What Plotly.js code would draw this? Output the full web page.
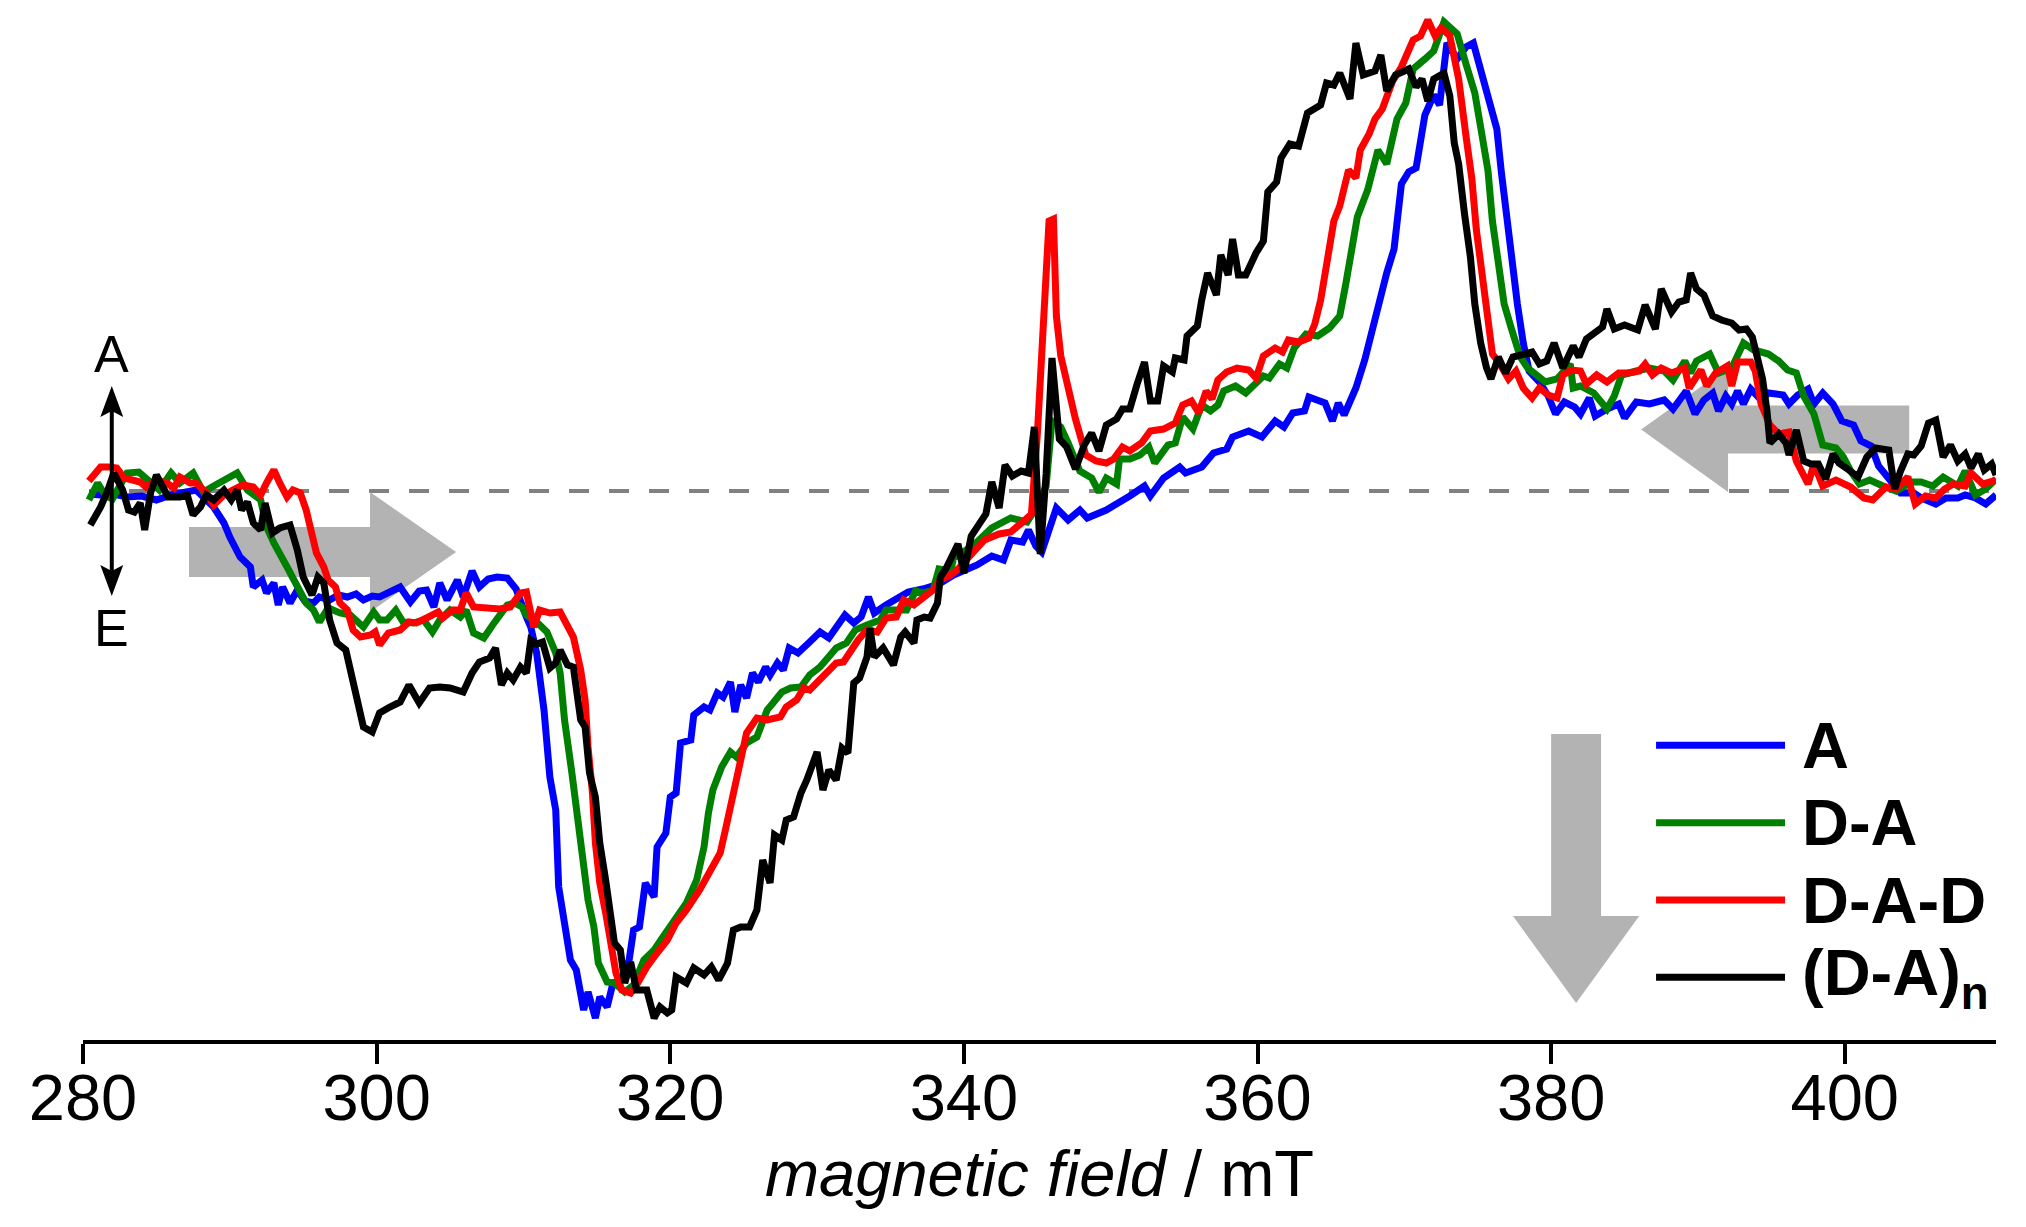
<!DOCTYPE html>
<html>
<head>
<meta charset="utf-8">
<script src="https://cdn.plot.ly/plotly-3.0.1.min.js"></script>
<style>
  html, body { margin: 0; padding: 0; background: #fff; }
  #graphDiv { width: 2026px; height: 1227px; }
</style>
</head>
<body>
<div id="graphDiv"></div>
<script>
// magnetic field (mT), signal (arb. units, 0 = baseline)
const seriesA = [
  [280.4,-0.03],[281.2,-0.04],[282.1,-0.03],[283.0,-0.06],[284.0,-0.05],[285.0,-0.09],[286.0,-0.04],
  [286.5,-0.03],[287.7,0.01],[288.9,-0.16],[289.6,-0.32],[290.0,-0.46],[290.7,-0.66],[291.4,-0.76],
  [291.6,-0.96],[292.2,-0.89],[292.5,-1.02],[293.0,-0.92],[293.3,-1.14],[293.6,-0.96],[294.1,-1.12],
  [294.6,-0.99],[295.1,-1.10],[295.7,-1.12],[296.1,-1.06],[296.8,-1.09],[297.4,-1.04],[298.0,-1.06],
  [298.6,-1.03],[299.1,-1.09],[299.7,-1.05],[300.2,-1.06],[300.9,-1.01],[301.6,-0.96],[302.3,-1.11],
  [302.9,-1.00],[303.4,-0.99],[303.9,-1.16],[304.3,-0.92],[304.8,-1.09],[305.5,-0.89],[305.9,-1.06],
  [306.5,-0.80],[307.0,-0.96],[307.6,-0.88],[308.2,-0.86],[308.9,-0.87],[309.5,-0.98],[310.2,-1.26],
  [310.5,-1.36],[310.9,-1.62],[311.4,-2.19],[311.8,-2.86],[312.2,-3.19],[312.4,-3.96],[312.7,-4.22],
  [313.2,-4.69],[313.6,-4.79],[314.1,-5.19],[314.4,-5.01],[314.9,-5.27],[315.2,-5.06],[315.7,-5.16],
  [316.1,-4.92],[316.7,-4.89],[317.2,-4.69],[317.5,-4.39],[317.9,-4.36],[318.3,-3.92],[318.9,-4.06],
  [319.1,-3.56],[319.7,-3.42],[320.0,-3.06],[320.4,-3.02],[320.7,-2.52],[321.4,-2.49],[321.6,-2.24],
  [322.3,-2.16],[322.7,-2.19],[323.2,-2.02],[323.6,-2.06],[324.1,-1.91],[324.4,-2.21],[324.8,-1.94],
  [325.2,-2.07],[325.6,-1.82],[326.0,-1.91],[326.5,-1.76],[326.8,-1.84],[327.3,-1.72],[327.7,-1.79],
  [328.1,-1.57],[328.7,-1.62],[329.5,-1.51],[330.2,-1.41],[330.8,-1.47],[331.9,-1.24],[332.5,-1.32],
  [333.0,-1.26],[333.5,-1.06],[333.9,-1.22],[334.7,-1.14],[336.2,-1.01],[337.2,-0.98],[338.3,-0.93],
  [339.3,-0.84],[340.9,-0.74],[341.9,-0.65],[342.7,-0.69],[343.2,-0.49],[344.0,-0.51],[344.4,-0.39],
  [344.9,-0.55],[345.3,-0.61],[346.3,-0.17],[347.1,-0.29],[347.9,-0.19],[348.4,-0.27],[349.7,-0.19],
  [351.3,-0.05],[352.3,0.05],[352.7,-0.05],[353.6,0.13],[354.7,0.24],[355.1,0.18],[356.2,0.24],
  [357.0,0.38],[357.9,0.42],[358.3,0.54],[359.4,0.60],[360.3,0.54],[361.2,0.70],[361.8,0.64],
  [362.4,0.78],[363.2,0.80],[363.5,0.94],[364.6,0.88],[365.1,0.70],[365.5,0.88],[365.9,0.76],
  [366.7,1.03],[367.3,1.31],[368.0,1.75],[368.8,2.18],[369.3,2.42],[369.8,3.07],[370.3,3.19],
  [370.8,3.23],[371.4,3.76],[372.0,3.96],[372.4,3.86],[372.9,4.48],[373.6,4.32],[374.2,4.44],
  [374.7,4.48],[375.1,4.27],[375.6,3.98],[376.3,3.62],[376.6,3.20],[377.0,2.70],[377.4,2.30],
  [377.7,1.87],[378.1,1.48],[378.5,1.20],[379.2,1.09],[379.8,0.95],[380.3,0.77],[380.9,0.89],
  [381.6,0.84],[382.0,0.77],[382.6,0.93],[383.0,0.75],[383.8,0.82],[384.6,0.87],[385.0,0.73],
  [385.8,0.89],[386.7,0.87],[387.7,0.91],[388.3,0.82],[389.2,1.00],[389.8,0.77],[390.4,0.91],
  [391.0,0.98],[391.4,0.80],[391.9,0.95],[392.3,0.87],[392.7,1.00],[393.1,0.87],[393.6,1.02],
  [394.3,0.91],[394.8,0.98],[395.8,0.96],[396.2,0.87],[396.8,0.96],[397.5,1.02],[397.9,0.87],
  [398.5,0.98],[399.2,0.87],[399.8,0.70],[400.6,0.66],[401.1,0.50],[401.8,0.45],[402.3,0.25],
  [403.0,0.12],[403.8,-0.02],[404.7,-0.02],[405.2,-0.07],[406.2,-0.13],[406.9,-0.07],[407.7,-0.07],
  [408.2,-0.04],[408.9,-0.07],[409.6,-0.13],[410.3,-0.04]
];

const seriesDA = [
  [280.4,-0.09],[281.0,0.08],[281.5,-0.04],[282.0,-0.08],[282.5,0.05],[283.0,0.18],[283.8,0.19],
  [284.6,0.09],[285.2,0.01],[286.0,0.18],[286.6,0.08],[287.5,0.18],[288.2,-0.01],[288.9,0.05],
  [289.6,0.11],[290.5,0.18],[291.2,0.01],[292.1,-0.09],[292.5,-0.36],[293.0,-0.52],[293.9,-0.76],
  [294.6,-0.96],[295.2,-1.12],[295.7,-1.19],[296.1,-1.31],[296.7,-1.17],[297.5,-1.22],[298.2,-1.24],
  [299.1,-1.36],[299.8,-1.21],[300.2,-1.29],[300.7,-1.29],[301.3,-1.19],[301.8,-1.31],[302.5,-1.32],
  [303.2,-1.29],[303.8,-1.41],[304.3,-1.29],[305.0,-1.19],[305.7,-1.26],[306.1,-1.19],[306.6,-1.42],
  [307.3,-1.47],[307.9,-1.34],[308.4,-1.25],[308.9,-1.14],[309.4,-1.12],[309.9,-1.16],[310.2,-1.24],
  [310.9,-1.31],[311.6,-1.41],[312.2,-1.62],[312.5,-1.82],[312.8,-2.29],[313.3,-2.82],[313.7,-3.29],
  [314.1,-3.86],[314.4,-4.09],[314.8,-4.36],[315.1,-4.72],[315.7,-4.91],[316.2,-4.92],[316.9,-5.01],
  [317.5,-4.94],[318.2,-4.69],[318.9,-4.59],[319.5,-4.46],[320.4,-4.26],[321.1,-4.12],[321.8,-3.89],
  [322.3,-3.56],[322.6,-3.22],[322.9,-2.99],[323.5,-2.76],[324.1,-2.61],[324.5,-2.66],[325.2,-2.52],
  [325.9,-2.46],[326.6,-2.19],[327.0,-2.12],[327.6,-2.01],[328.2,-1.97],[328.9,-1.96],[329.5,-1.84],
  [330.2,-1.76],[330.9,-1.64],[331.3,-1.57],[332.0,-1.52],[332.6,-1.39],[333.4,-1.34],[334.3,-1.29],
  [334.7,-1.19],[335.7,-1.20],[336.1,-1.19],[336.7,-1.00],[337.2,-1.02],[337.9,-0.99],[338.3,-0.78],
  [339.1,-0.80],[339.3,-0.67],[340.6,-0.55],[341.9,-0.37],[343.2,-0.27],[344.3,-0.31],[345.0,-0.15],
  [345.6,0.05],[346.0,0.70],[346.6,0.64],[347.1,0.48],[347.9,0.20],[348.7,0.13],[349.2,-0.01],
  [349.7,0.13],[350.4,0.07],[350.6,0.32],[351.3,0.32],[352.0,0.36],[352.6,0.44],[353.0,0.28],
  [353.9,0.46],[354.4,0.48],[354.9,0.74],[355.6,0.62],[356.2,0.86],[356.8,0.80],[357.3,0.86],
  [357.7,1.00],[358.5,1.05],[359.2,0.98],[359.8,1.07],[360.4,1.15],[360.8,1.13],[361.5,1.27],
  [362.0,1.23],[362.5,1.43],[363.3,1.57],[364.1,1.55],[364.9,1.63],[365.6,1.75],[366.0,2.06],
  [366.4,2.46],[366.8,2.74],[367.5,3.01],[368.2,3.41],[368.8,3.27],[369.5,3.72],[370.1,3.88],
  [370.6,4.22],[371.4,4.32],[372.0,4.40],[372.7,4.69],[373.1,4.64],[373.6,4.57],[374.2,4.27],
  [374.8,3.98],[375.3,3.55],[375.7,3.20],[376.0,2.70],[376.4,2.23],[376.8,1.87],[377.3,1.62],
  [377.9,1.34],[378.4,1.23],[379.1,1.16],[379.6,1.09],[380.4,1.12],[380.9,1.21],[381.3,1.27],
  [381.5,1.03],[382.0,1.05],[382.9,0.98],[383.8,0.82],[384.3,0.95],[384.8,1.16],[385.8,1.20],
  [386.7,1.23],[387.7,1.20],[388.3,1.11],[389.1,1.30],[389.5,1.18],[389.9,1.30],[390.8,1.37],
  [391.4,1.18],[392.3,1.23],[393.1,1.48],[393.8,1.41],[394.8,1.37],[395.5,1.30],[396.1,1.21],
  [396.7,1.18],[397.2,0.95],[397.9,0.77],[398.5,0.46],[399.4,0.43],[399.9,0.34],[400.4,0.20],
  [401.0,0.07],[401.7,0.11],[402.6,0.05],[403.5,0.00],[404.5,0.09],[405.2,0.09],[406.0,0.05],
  [406.7,0.14],[407.7,0.05],[408.2,0.20],[408.9,-0.04],[409.6,0.02],[410.3,0.12]
];

const seriesDAD = [
  [280.4,0.10],[280.6,0.14],[281.2,0.24],[281.8,0.24],[282.3,0.23],[282.8,0.13],[283.2,0.11],
  [283.9,0.09],[284.3,0.04],[285.0,0.11],[285.7,0.08],[286.2,0.03],[286.6,0.14],[287.3,0.08],
  [287.7,0.08],[288.4,-0.02],[288.9,-0.14],[289.6,-0.04],[290.2,0.01],[290.9,0.06],[291.6,0.04],
  [292.1,-0.04],[292.5,0.08],[293.0,0.21],[293.4,0.08],[293.9,-0.06],[294.3,0.01],[294.8,-0.02],
  [295.2,-0.19],[295.5,-0.39],[295.9,-0.62],[296.4,-0.76],[296.7,-0.89],[297.2,-0.96],[297.5,-1.12],
  [298.0,-1.19],[298.4,-1.39],[298.9,-1.46],[299.6,-1.44],[299.9,-1.41],[300.2,-1.54],[300.8,-1.42],
  [301.6,-1.39],[302.2,-1.31],[302.7,-1.32],[303.4,-1.27],[304.2,-1.21],[304.5,-1.27],[305.2,-1.19],
  [305.7,-1.19],[306.1,-1.02],[306.6,-1.16],[307.5,-1.17],[308.4,-1.18],[309.1,-1.16],[309.8,-1.02],
  [310.2,-1.01],[310.7,-1.36],[311.1,-1.19],[311.8,-1.22],[312.5,-1.21],[313.0,-1.36],[313.4,-1.46],
  [313.9,-1.79],[314.2,-2.09],[314.4,-2.56],[314.7,-3.02],[314.9,-3.52],[315.2,-3.92],[315.6,-4.22],
  [315.9,-4.49],[316.3,-4.82],[316.7,-4.99],[317.3,-5.02],[317.7,-4.94],[318.4,-4.76],[319.1,-4.62],
  [319.8,-4.49],[320.4,-4.32],[321.1,-4.19],[322.0,-3.99],[322.7,-3.82],[323.4,-3.62],[323.8,-3.36],
  [324.3,-3.02],[324.6,-2.76],[325.2,-2.42],[325.9,-2.27],[326.6,-2.29],[327.5,-2.26],[327.9,-2.16],
  [328.6,-2.09],[329.1,-1.97],[329.5,-1.99],[330.2,-1.89],[330.9,-1.79],[331.3,-1.72],[331.8,-1.71],
  [332.3,-1.59],[332.8,-1.49],[333.4,-1.39],[334.1,-1.41],[334.7,-1.27],[335.4,-1.26],[335.9,-1.09],
  [336.6,-1.14],[337.2,-1.07],[337.9,-0.99],[338.4,-0.89],[339.1,-0.84],[339.6,-0.78],[340.6,-0.63],
  [341.4,-0.49],[342.4,-0.43],[343.2,-0.41],[344.0,-0.31],[344.6,-0.23],[345.0,0.56],[345.4,1.75],
  [345.8,2.70],[346.1,2.72],[346.3,1.75],[346.6,1.35],[347.1,1.00],[347.6,0.72],[348.3,0.36],
  [349.0,0.30],[349.7,0.28],[350.2,0.32],[350.8,0.44],[351.3,0.40],[352.1,0.48],[352.7,0.60],
  [353.6,0.62],[354.4,0.68],[354.9,0.86],[355.5,0.90],[356.0,0.78],[356.5,1.00],[356.9,0.92],
  [357.3,1.11],[357.9,1.19],[358.6,1.23],[359.4,1.21],[359.9,1.13],[360.4,1.35],[361.2,1.43],
  [361.7,1.39],[362.1,1.51],[362.8,1.49],[363.5,1.53],[363.9,1.67],[364.3,1.91],[364.7,2.26],
  [365.2,2.70],[365.6,2.85],[366.2,3.21],[366.7,3.13],[367.0,3.41],[367.6,3.57],[368.0,3.72],
  [368.5,3.82],[369.2,4.10],[369.8,4.24],[370.6,4.51],[371.1,4.55],[371.6,4.71],[372.1,4.55],
  [372.5,4.63],[373.1,4.55],[373.7,4.12],[374.2,3.55],[374.6,3.12],[374.9,2.62],[375.3,2.12],
  [375.7,1.70],[376.0,1.37],[376.5,1.27],[377.1,1.12],[377.6,1.20],[378.1,1.03],[378.7,0.93],
  [379.2,1.03],[379.8,0.96],[380.4,0.93],[380.8,1.16],[381.4,1.21],[382.0,1.20],[382.4,1.07],
  [383.1,1.16],[383.8,1.09],[384.6,1.18],[385.3,1.18],[386.0,1.20],[386.4,1.27],[386.9,1.16],
  [387.5,1.23],[388.2,1.18],[389.1,1.23],[389.4,1.03],[390.2,1.21],[390.6,1.05],[391.2,1.18],
  [392.0,1.25],[392.3,1.05],[392.7,1.29],[393.6,1.29],[393.9,1.20],[394.3,0.87],[394.9,0.66],
  [395.5,0.57],[396.2,0.59],[396.7,0.30],[397.5,0.07],[397.9,0.27],[398.5,0.05],[399.4,0.11],
  [400.4,0.04],[401.3,-0.07],[401.9,-0.09],[402.8,0.04],[403.5,0.02],[404.3,0.14],[404.8,-0.13],
  [405.5,-0.05],[406.2,-0.07],[406.8,0.02],[407.4,0.07],[408.2,0.05],[408.6,0.18],[409.4,0.07],
  [410.3,0.11]
];

const seriesDAn = [
  [280.5,-0.34],[281.2,-0.16],[281.7,0.01],[282.1,0.18],[282.7,0.01],[283.1,-0.19],[283.5,-0.21],
  [283.9,-0.12],[284.2,-0.39],[284.6,-0.02],[285.0,0.16],[285.5,0.04],[285.8,-0.06],[286.6,-0.06],
  [287.1,-0.04],[287.5,-0.24],[288.0,-0.16],[288.4,-0.04],[288.9,-0.09],[289.6,0.01],[290.1,-0.09],
  [290.5,0.01],[290.8,-0.19],[291.2,-0.11],[291.6,-0.32],[292.1,-0.39],[292.4,-0.12],[292.9,-0.42],
  [293.4,-0.37],[294.1,-0.34],[294.6,-0.59],[295.0,-0.86],[295.6,-1.04],[296.0,-0.86],[296.4,-0.92],
  [296.8,-1.29],[297.3,-1.52],[297.9,-1.59],[298.6,-2.02],[299.1,-2.36],[299.7,-2.41],[300.2,-2.22],
  [300.9,-2.16],[301.6,-2.11],[302.2,-1.94],[302.9,-2.12],[303.6,-1.97],[304.3,-1.96],[305.0,-1.97],
  [305.9,-2.01],[306.5,-1.82],[307.0,-1.71],[307.7,-1.67],[308.1,-1.57],[308.5,-1.94],[308.9,-1.82],
  [309.3,-1.89],[309.8,-1.76],[310.2,-1.82],[310.5,-1.49],[310.9,-1.53],[311.3,-1.51],[311.8,-1.77],
  [312.2,-1.72],[312.5,-1.59],[313.0,-1.74],[313.4,-1.76],[313.9,-2.29],[314.2,-2.36],[314.5,-2.82],
  [314.9,-3.06],[315.2,-3.52],[315.6,-3.89],[315.9,-4.22],[316.2,-4.52],[316.6,-4.59],[316.9,-4.92],
  [317.3,-4.71],[317.7,-4.99],[318.4,-4.99],[318.9,-5.27],[319.3,-5.16],[319.8,-5.22],[320.1,-5.19],
  [320.4,-4.86],[321.1,-4.92],[321.6,-4.77],[322.3,-4.84],[322.8,-4.76],[323.3,-4.89],[323.9,-4.72],
  [324.3,-4.39],[324.8,-4.36],[325.4,-4.36],[325.9,-4.19],[326.3,-3.69],[326.8,-3.92],[327.1,-3.44],
  [327.6,-3.49],[327.9,-3.29],[328.4,-3.26],[328.9,-3.02],[329.3,-2.89],[330.0,-2.61],[330.4,-2.99],
  [330.8,-2.79],[331.3,-2.89],[331.7,-2.57],[332.1,-2.62],[332.5,-1.92],[332.9,-1.87],[333.4,-1.66],
  [333.6,-1.37],[333.9,-1.66],[334.5,-1.57],[335.2,-1.74],[335.7,-1.46],[336.0,-1.41],[336.6,-1.52],
  [336.8,-1.29],[337.3,-1.26],[337.7,-1.27],[338.2,-1.12],[338.4,-0.86],[338.8,-0.77],[339.6,-0.53],
  [340.0,-0.82],[340.5,-0.45],[340.9,-0.37],[341.5,-0.23],[341.9,0.09],[342.4,-0.17],[342.8,0.26],
  [343.3,0.15],[343.9,0.20],[344.4,0.18],[344.8,0.64],[345.2,-0.63],[345.6,0.17],[346.0,1.33],
  [346.5,0.52],[347.0,0.44],[347.6,0.22],[348.2,0.46],[348.7,0.58],[349.2,0.40],[349.7,0.66],
  [350.4,0.72],[350.8,0.82],[351.3,0.82],[351.8,1.07],[352.3,1.29],[352.7,0.90],[353.2,0.90],
  [353.6,1.25],[354.2,1.19],[354.4,1.33],[355.0,1.31],[355.2,1.55],[355.9,1.65],[356.2,1.91],
  [356.6,2.18],[357.2,1.96],[357.5,2.36],[358.0,2.16],[358.3,2.52],[358.7,2.16],[359.2,2.16],
  [359.9,2.38],[360.4,2.50],[360.7,2.99],[361.3,3.09],[361.6,3.33],[362.2,3.47],[362.8,3.45],
  [363.4,3.78],[364.3,3.86],[364.7,4.08],[365.2,4.06],[365.6,4.18],[366.3,3.92],[366.7,4.48],
  [367.2,4.16],[368.0,4.20],[368.4,4.36],[368.8,4.00],[369.4,4.16],[370.3,4.22],[370.8,4.04],
  [371.2,4.12],[371.6,3.90],[372.0,4.12],[372.7,4.18],[373.1,3.95],[373.4,3.48],[373.7,3.27],
  [374.1,2.77],[374.5,2.34],[374.8,1.87],[375.2,1.48],[375.6,1.23],[375.9,1.12],[376.4,1.34],
  [376.9,1.18],[377.4,1.34],[378.0,1.37],[378.7,1.39],[379.2,1.27],[379.7,1.30],[380.2,1.48],
  [380.8,1.23],[381.5,1.45],[381.9,1.34],[382.4,1.52],[382.9,1.57],[383.5,1.64],[383.8,1.82],
  [384.3,1.62],[385.0,1.66],[385.9,1.61],[386.4,1.86],[387.1,1.62],[387.5,2.02],[388.2,1.79],
  [388.7,1.89],[389.2,1.91],[389.5,2.18],[389.9,2.02],[390.4,1.96],[391.0,1.75],[391.6,1.71],
  [392.3,1.68],[392.8,1.61],[393.3,1.62],[393.7,1.54],[394.0,1.34],[394.4,1.12],[394.7,0.80],
  [394.9,0.48],[395.5,0.57],[396.0,0.48],[396.2,0.36],[396.7,0.61],[397.2,0.30],[397.7,0.27],
  [398.2,0.27],[398.7,0.12],[399.2,0.37],[399.6,0.28],[400.1,0.23],[400.9,0.14],[401.5,0.34],
  [402.1,0.43],[403.0,0.41],[403.4,0.02],[403.8,0.20],[404.3,0.37],[404.7,0.36],[405.2,0.45],
  [405.7,0.68],[406.2,0.71],[406.7,0.34],[407.2,0.46],[407.7,0.30],[408.2,0.37],[408.6,0.23],
  [409.1,0.37],[409.5,0.21],[410.0,0.27],[410.3,0.16]
];

const seriesNames = ['A', 'D-A', 'D-A-D', '(D-A)<sub>n</sub>'];
const seriesColors = ['#0000ff', '#008000', '#ff0000', '#000000'];
const tickValues = [280, 300, 320, 340, 360, 380, 400];

const FONT = 'Liberation Sans, Arial, Helvetica, sans-serif';

const allSeries = [seriesA, seriesDA, seriesDAD, seriesDAn];
const data = allSeries.map(function (s, i) {
  return {
    x: s.map(p => p[0]),
    y: s.map(p => p[1]),
    mode: 'lines',
    type: 'scatter',
    name: seriesNames[i],
    line: {color: seriesColors[i], width: 7},
    showlegend: false,
    hoverinfo: 'skip'
  };
});

// grey block arrows, baseline and the A/E double arrow
const grey = '#b3b3b3';
const shapes = [
  {type: 'line', xref: 'x', yref: 'y', x0: 280.41, x1: 410.3, y0: 0, y1: 0,
   line: {color: '#808080', width: 4, dash: '20px,20px'}, layer: 'below'},
  {type: 'path', xref: 'x', yref: 'y', layer: 'below', fillcolor: grey, line: {width: 0},
   path: 'M287.22,-0.36 L299.55,-0.36 L299.55,-0.01 L305.41,-0.61 L299.55,-1.21 L299.55,-0.86 L287.22,-0.86 Z'},
  {type: 'path', xref: 'x', yref: 'y', layer: 'below', fillcolor: grey, line: {width: 0},
   path: 'M404.39,0.856 L392.05,0.856 L392.05,1.238 L386.13,0.614 L392.05,-0.01 L392.05,0.374 L404.39,0.374 Z'},
  {type: 'path', xref: 'x', yref: 'y', layer: 'below', fillcolor: grey, line: {width: 0},
   path: 'M380.0,-2.43 L383.4,-2.43 L383.4,-4.25 L386.0,-4.25 L381.7,-5.12 L377.4,-4.25 L380.0,-4.25 Z'},
  {type: 'line', xref: 'x', yref: 'y', x0: 281.96, x1: 281.96, y0: 0.80, y1: -0.80,
   line: {color: '#000000', width: 4}},
  {type: 'path', xref: 'x', yref: 'y', fillcolor: '#000000', line: {width: 0},
   path: 'M281.96,1.05 L282.74,0.74 L281.96,0.80 L281.18,0.74 Z'},
  {type: 'path', xref: 'x', yref: 'y', fillcolor: '#000000', line: {width: 0},
   path: 'M281.96,-1.05 L282.74,-0.74 L281.96,-0.80 L281.18,-0.74 Z'}
];

const annotations = [
  {xref: 'x', yref: 'y', x: 281.96, y: 1.37, text: 'A', showarrow: false,
   font: {family: FONT, size: 52, color: '#000'}, xanchor: 'center', yanchor: 'middle'},
  {xref: 'x', yref: 'y', x: 281.96, y: -1.37, text: 'E', showarrow: false,
   font: {family: FONT, size: 52, color: '#000'}, xanchor: 'center', yanchor: 'middle'}
];

// hand-made legend (long line samples, bold labels)
const legendRows = [0.2834, 0.2089, 0.1346, 0.0603];
seriesNames.forEach(function (name, i) {
  shapes.push({type: 'line', xref: 'paper', yref: 'paper',
    x0: 0.8223, x1: 0.8897, y0: legendRows[i], y1: legendRows[i],
    line: {color: seriesColors[i], width: 7}});
  annotations.push({xref: 'paper', yref: 'paper', x: 0.8976, y: legendRows[i],
    text: '<b>' + name + '</b>', showarrow: false, xanchor: 'left', yanchor: 'middle',
    font: {family: FONT, size: 65, color: '#000'}});
});

const layout = {
  width: 2026,
  height: 1227,
  margin: {l: 83, r: 30, t: 0, b: 187, pad: 0},
  paper_bgcolor: '#ffffff',
  plot_bgcolor: '#ffffff',
  font: {family: FONT, color: '#000'},
  xaxis: {
    range: [280, 410.3],
    tickvals: tickValues,
    ticks: 'outside',
    ticklen: 20,
    tickwidth: 4,
    tickcolor: '#000',
    ticklabelstandoff: -22,
    showline: true,
    linewidth: 4,
    linecolor: '#000',
    showgrid: false,
    zeroline: false,
    tickfont: {family: FONT, size: 65, color: '#000'},
    title: {text: '<i>magnetic field</i> / mT', font: {family: FONT, size: 65, color: '#000'}, standoff: 18},
    automargin: false
  },
  yaxis: {
    range: [-5.49, 4.91],
    visible: false,
    showgrid: false,
    zeroline: false
  },
  shapes: shapes,
  annotations: annotations,
  showlegend: false
};

Plotly.newPlot('graphDiv', data, layout, {staticPlot: true});
</script>
</body>
</html>
